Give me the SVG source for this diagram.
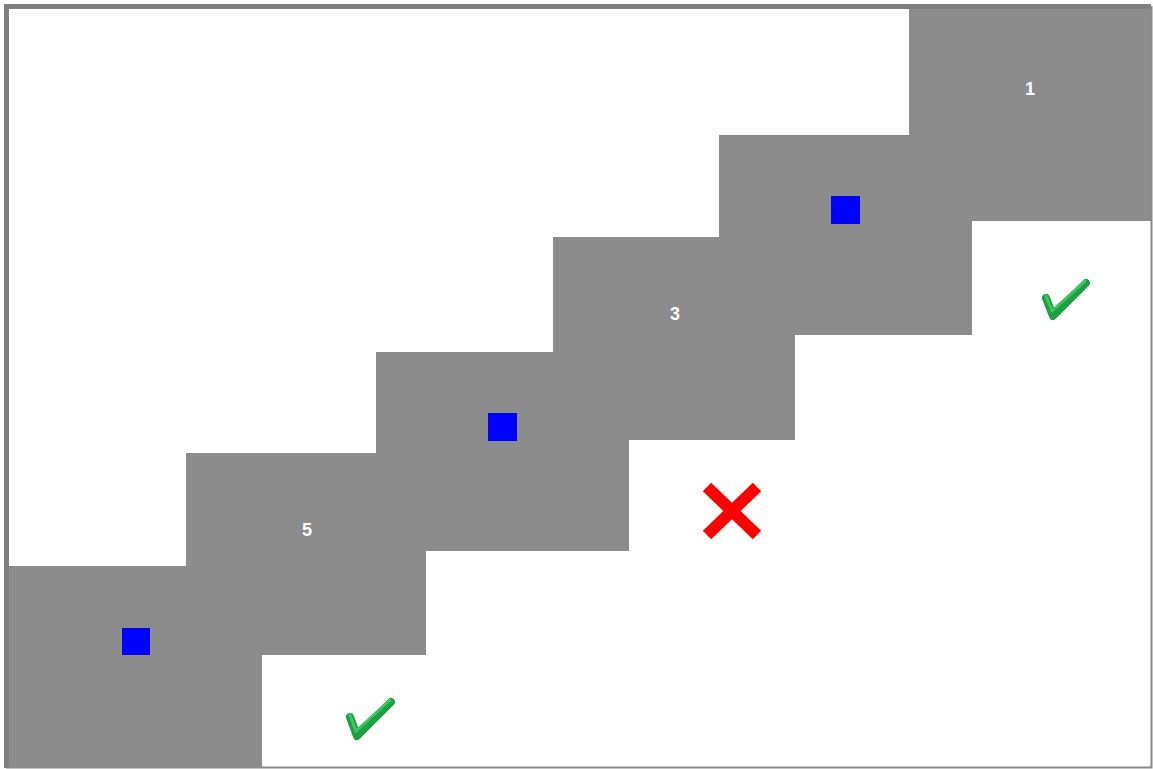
<svg xmlns="http://www.w3.org/2000/svg" width="1153" height="769" viewBox="0 0 1153 769">
<style>
.step{fill:#8c8c8c;}
.mark{fill:#0000ff;}
.lbl{fill:#ffffff;font-family:"Liberation Sans",Arial,sans-serif;font-size:18px;font-weight:bold;text-anchor:middle;}
.chk{fill:none;stroke:#1f9e45;stroke-width:8;stroke-linecap:round;stroke-linejoin:round;}
.chk2{fill:none;stroke:#3cc760;stroke-width:3;stroke-linecap:round;stroke-linejoin:round;}
.x{stroke:#ff0000;stroke-width:12;stroke-linecap:butt;}
</style>
<rect x="0" y="0" width="1153" height="769" fill="#ffffff"/>
<g id="step1"><rect class="step" x="909" y="9" width="242" height="212"/><text class="lbl" x="1030" y="95">1</text></g>
<g id="step2"><rect class="step" x="719" y="135" width="253" height="200"/><rect class="mark" x="831" y="196" width="29" height="28"/></g>
<g id="step3"><rect class="step" x="553" y="237" width="242" height="203"/><text class="lbl" x="675" y="320">3</text></g>
<g id="step4"><rect class="step" x="376" y="352" width="253" height="199"/><rect class="mark" x="488" y="413" width="29" height="28"/></g>
<g id="step5"><rect class="step" x="186" y="453" width="240" height="202"/><text class="lbl" x="307" y="536">5</text></g>
<g id="step6"><rect class="step" x="9" y="566" width="253" height="201"/><rect class="mark" x="122" y="628" width="28" height="27"/></g>
<g id="check1"><path class="chk" d="M1046,298 L1053,316 L1086,283"/><path class="chk2" d="M1046,296 L1052,311 L1085,281"/></g>
<g id="check2"><path class="chk" d="M350,717 L357,736 L391,702"/><path class="chk2" d="M350,715 L356,731 L390,700"/></g>
<g id="cross"><line class="x" x1="707" y1="487" x2="757" y2="535"/><line class="x" x1="757" y1="487" x2="707" y2="535"/></g>
<g id="frame" fill="none" stroke="#7f7f7f"><path d="M6.5,768 L6.5,6.5 L1151,6.5" stroke-width="5"/><path d="M1151.5,6 L1151.5,767.5 L6,767.5" stroke-width="2" stroke="#8a8a8a"/></g>
</svg>
